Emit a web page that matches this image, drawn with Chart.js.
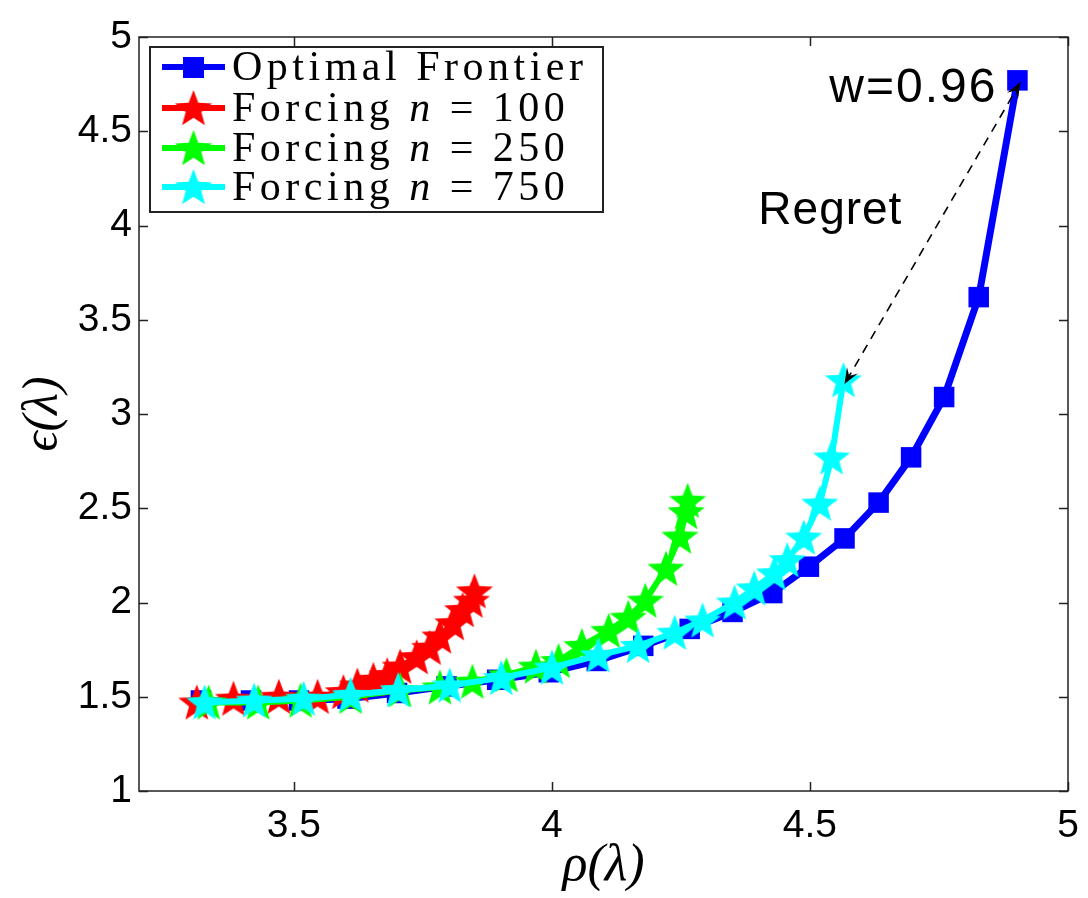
<!DOCTYPE html>
<html><head><meta charset="utf-8">
<script src="https://cdn.jsdelivr.net/npm/chart.js@4.4.1/dist/chart.umd.min.js"></script>
<style>html,body{margin:0;padding:0;background:#fff}#wrap{width:1088px;height:898px}</style>
</head><body><div id="wrap"><canvas id="c" width="1088" height="898"></canvas></div>
<script>
// ---- data ----
const seriesNames = ['Optimal Frontier', 'Forcing n = 100', 'Forcing n = 250', 'Forcing n = 750'];
const frontierRho = [3.32, 3.417, 3.51, 3.604, 3.70, 3.796, 3.894, 3.994, 4.087, 4.177, 4.267, 4.35, 4.427, 4.498, 4.567, 4.633, 4.696, 4.76, 4.827, 4.902];
const frontierEps = [1.48, 1.48, 1.48, 1.49, 1.52, 1.555, 1.59, 1.63, 1.69, 1.77, 1.86, 1.95, 2.05, 2.19, 2.34, 2.53, 2.77, 3.09, 3.62, 4.77];
const force100Rho = [3.312, 3.383, 3.471, 3.546, 3.596, 3.623, 3.654, 3.681, 3.706, 3.738, 3.763, 3.783, 3.808, 3.827, 3.844, 3.85];
const force100Eps = [1.47, 1.49, 1.50, 1.50, 1.525, 1.56, 1.59, 1.615, 1.66, 1.71, 1.76, 1.82, 1.89, 1.96, 2.01, 2.06];
const force250Rho = [3.335, 3.431, 3.513, 3.61, 3.706, 3.783, 3.846, 3.912, 3.969, 4.013, 4.058, 4.11, 4.148, 4.181, 4.221, 4.248, 4.26, 4.263];
const force250Eps = [1.47, 1.47, 1.48, 1.50, 1.535, 1.55, 1.58, 1.615, 1.66, 1.69, 1.77, 1.85, 1.92, 2.01, 2.18, 2.35, 2.48, 2.54];
const force750Rho = [3.327, 3.423, 3.519, 3.61, 3.702, 3.802, 3.902, 4.0, 4.09, 4.167, 4.238, 4.292, 4.354, 4.392, 4.431, 4.456, 4.488, 4.519, 4.542, 4.565];
const force750Eps = [1.47, 1.48, 1.49, 1.51, 1.535, 1.56, 1.60, 1.655, 1.72, 1.77, 1.84, 1.905, 2.0, 2.075, 2.155, 2.225, 2.345, 2.525, 2.77, 3.18];
const xTickValues = [3.5, 4, 4.5, 5];
const yTickValues = [1, 1.5, 2, 2.5, 3, 3.5, 4, 4.5, 5];
const xTitle = 'ρ(λ)';
const yTitle = 'ϵ(λ)';
const weightLabel = 'w=0.96';
const regretLabel = 'Regret';
const regretLabelPos = {x: 4.40, y: 4.01};

// ---- styles ----
const colors = ['#0000ff', '#ff0000', '#00ff00', '#00ffff'];
function starCanvas(color, size) {
  const c = document.createElement('canvas');
  c.width = size; c.height = size;
  const g = c.getContext('2d');
  const R = size / 2 - 0.5, r = R * 0.42, cx = size / 2, cy = size / 2 + 1.5;
  g.beginPath();
  for (let i = 0; i < 10; i++) {
    const a = -Math.PI / 2 + i * Math.PI / 5;
    const rad = i % 2 ? r : R;
    const px = cx + rad * Math.cos(a), py = cy + rad * Math.sin(a);
    if (i === 0) g.moveTo(px, py); else g.lineTo(px, py);
  }
  g.closePath();
  g.fillStyle = color; g.fill();
  return c;
}
const stars = colors.map(c => starCanvas(c, 40));

function pts(xs, ys) { return xs.map((x, i) => ({x: x, y: ys[i]})); }
const seriesData = [pts(frontierRho, frontierEps), pts(force100Rho, force100Eps), pts(force250Rho, force250Eps), pts(force750Rho, force750Eps)];

const datasets = seriesNames.map((name, i) => ({
  label: name,
  data: seriesData[i],
  showLine: true,
  borderColor: colors[i],
  backgroundColor: colors[i],
  borderWidth: i === 0 ? 7 : 6,
  tension: 0,
  pointStyle: i === 0 ? 'rect' : stars[i],
  pointRadius: i === 0 ? 14.5 : 20,
  pointBorderWidth: 0,
  order: 3 - i
}));

const frameTicks = {
  id: 'frameTicks',
  afterDraw(chart) {
    const ctx = chart.ctx, a = chart.chartArea;
    const xs = chart.scales.x, ys = chart.scales.y;
    ctx.save();
    ctx.strokeStyle = '#222';
    ctx.lineWidth = 1.5;
    const L = 9;
    ctx.beginPath();
    xTickValues.forEach(v => {
      const p = Math.round(xs.getPixelForValue(v)) + 0.5;
      ctx.moveTo(p, a.bottom); ctx.lineTo(p, a.bottom - L);
      ctx.moveTo(p, a.top); ctx.lineTo(p, a.top + L);
    });
    yTickValues.forEach(v => {
      const p = Math.round(ys.getPixelForValue(v)) + 0.5;
      ctx.moveTo(a.left, p); ctx.lineTo(a.left + L, p);
      ctx.moveTo(a.right, p); ctx.lineTo(a.right - L, p);
    });
    ctx.stroke();
    ctx.strokeRect(a.left, a.top, a.right - a.left, a.bottom - a.top);
    ctx.restore();
  }
};

const annotations = {
  id: 'annotations',
  afterDatasetsDraw(chart) {
    const ctx = chart.ctx, xs = chart.scales.x, ys = chart.scales.y;
    const n0 = frontierRho.length - 1, n3 = force750Rho.length - 1;
    const x1 = xs.getPixelForValue(frontierRho[n0]) + 3, y1 = ys.getPixelForValue(frontierEps[n0]) + 2;
    const x2 = xs.getPixelForValue(force750Rho[n3]) + 1, y2 = ys.getPixelForValue(force750Eps[n3]) + 4;
    ctx.save();
    ctx.strokeStyle = '#000'; ctx.fillStyle = '#000'; ctx.lineWidth = 1.6;
    ctx.setLineDash([9, 7]);
    ctx.beginPath(); ctx.moveTo(x1, y1); ctx.lineTo(x2, y2); ctx.stroke();
    ctx.setLineDash([]);
    function head(tx, ty, fx, fy) {
      const ang = Math.atan2(ty - fy, tx - fx), len = 17, w = 0.38;
      ctx.beginPath();
      ctx.moveTo(tx, ty);
      ctx.lineTo(tx - len * Math.cos(ang - w), ty - len * Math.sin(ang - w));
      ctx.lineTo(tx - len * 0.55 * Math.cos(ang), ty - len * 0.55 * Math.sin(ang));
      ctx.lineTo(tx - len * Math.cos(ang + w), ty - len * Math.sin(ang + w));
      ctx.closePath(); ctx.fill();
    }
    head(x1, y1, x2, y2);
    head(x2, y2, x1, y1);
    ctx.font = '48px "Liberation Sans", Arial, sans-serif';
    ctx.letterSpacing = '2px';
    ctx.textAlign = 'right'; ctx.textBaseline = 'alphabetic';
    ctx.fillText(weightLabel, xs.getPixelForValue(frontierRho[n0]) - 20, ys.getPixelForValue(frontierEps[n0]) + 22);
    ctx.letterSpacing = '1px';
    ctx.font = '46px "Liberation Sans", Arial, sans-serif';
    ctx.textAlign = 'left';
    ctx.fillText(regretLabel, xs.getPixelForValue(regretLabelPos.x), ys.getPixelForValue(regretLabelPos.y));
    ctx.restore();
  }
};

const legendBox = {
  id: 'legendBox',
  afterDraw(chart) {
    const ctx = chart.ctx;
    const bx = 150, by = 47, bw = 453, bh = 165;
    ctx.save();
    ctx.fillStyle = '#fff'; ctx.fillRect(bx, by, bw, bh);
    ctx.strokeStyle = '#222'; ctx.lineWidth = 2; ctx.strokeRect(bx, by, bw, bh);
    const rowY = [67, 108, 148, 187];
    chart.data.datasets.forEach((ds, i) => {
      const y = rowY[i];
      ctx.strokeStyle = ds.borderColor; ctx.lineWidth = 6;
      ctx.beginPath(); ctx.moveTo(162, y); ctx.lineTo(225, y); ctx.stroke();
      if (i === 0) {
        ctx.fillStyle = ds.backgroundColor; ctx.fillRect(183, y - 10, 21, 21);
      } else {
        const s = ds.pointStyle; ctx.drawImage(s, 193.5 - s.width / 2, y - s.height / 2);
      }
      const m = ds.label.match(/^(.*?)\bn\b(.*)$/);
      const parts = m ? [{t: m[1], it: false}, {t: 'n', it: true}, {t: m[2], it: false}] : [{t: ds.label, it: false}];
      let x = 232;
      ctx.fillStyle = '#000'; ctx.textAlign = 'left'; ctx.textBaseline = 'middle';
      ctx.letterSpacing = '4.5px';
      parts.forEach(p => {
        ctx.font = (p.it ? 'italic ' : '') + '42px "Liberation Serif", "DejaVu Serif", serif';
        ctx.fillText(p.t, x, y + 2);
        x += ctx.measureText(p.t).width;
      });
    });
    ctx.restore();
  }
};

new Chart(document.getElementById('c'), {
  type: 'scatter',
  data: {datasets: datasets},
  options: {
    responsive: false,
    animation: false,
    devicePixelRatio: 1,
    events: [],
    layout: {padding: {top: 37, right: 15, left: 0, bottom: 0}},
    plugins: {legend: {display: false}, tooltip: {enabled: false}},
    scales: {
      x: {
        type: 'linear', min: 3.2, max: 5,
        afterFit: s => { s.height = 107; s.paddingRight = 0; s.paddingLeft = 0; },
        afterBuildTicks: s => { s.ticks = xTickValues.map(v => ({value: v})); },
        grid: {display: false, drawTicks: false},
        border: {display: false},
        ticks: {color: '#000', padding: 12, font: {size: 39, family: '"Liberation Sans", Arial, sans-serif'}, maxRotation: 0, autoSkip: false,
          callback: v => String(v)},
        title: {display: true, text: xTitle, color: '#000', padding: {top: 0, bottom: 0},
          font: {size: 52, family: '"Liberation Serif", "DejaVu Serif", serif', style: 'italic'}}
      },
      y: {
        type: 'linear', min: 1, max: 5,
        afterFit: s => { s.width = 139; s.paddingTop = 0; s.paddingBottom = 0; },
        afterBuildTicks: s => { s.ticks = yTickValues.map(v => ({value: v})); },
        grid: {display: false, drawTicks: false},
        border: {display: false},
        ticks: {color: '#000', padding: 7, font: {size: 39, family: '"Liberation Sans", Arial, sans-serif'}, autoSkip: false,
          callback: v => String(v)},
        title: {display: true, text: yTitle, color: '#000', padding: {top: 14, bottom: 0},
          font: {size: 50, family: '"Liberation Serif", "DejaVu Serif", serif', style: 'italic'}}
      }
    }
  },
  plugins: [annotations, frameTicks, legendBox]
});
</script>
</body></html>
